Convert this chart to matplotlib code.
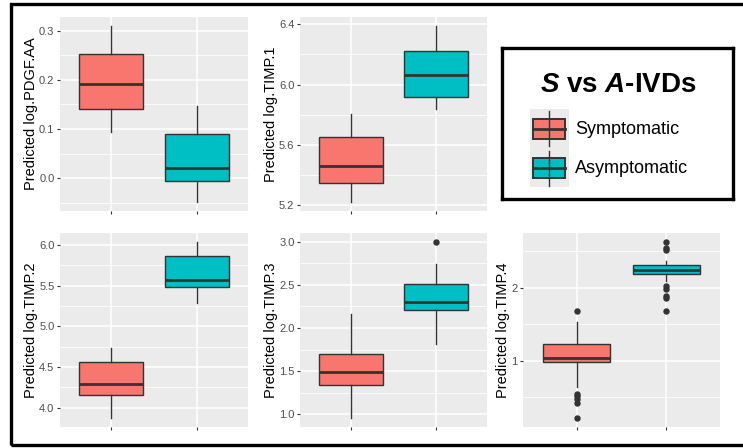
import matplotlib
matplotlib.use("Agg")
import matplotlib.pyplot as plt
from matplotlib.patches import Rectangle
from matplotlib.lines import Line2D
from matplotlib.ticker import MultipleLocator, FormatStrFormatter, AutoMinorLocator

plt.rcParams['font.family'] = ['Liberation Sans', 'DejaVu Sans']
plt.rcParams['mathtext.fontset'] = 'custom'
plt.rcParams['mathtext.rm'] = 'Liberation Sans:bold'
plt.rcParams['mathtext.bf'] = 'Liberation Sans:bold'
plt.rcParams['mathtext.bfit'] = 'Liberation Sans:bold:italic'

# groups and fill colours (ggplot hue defaults)
groups = ["Symptomatic", "Asymptomatic"]
fills = ["#F8766D", "#00BFC4"]

markers = ["PDGF.AA", "TIMP.1", "TIMP.2", "TIMP.3", "TIMP.4"]

# box stats per marker, [symptomatic, asymptomatic]
whislo = [[0.093, -0.049], [5.218, 5.835], [3.870, 5.290], [0.953, 1.817], [0.633, 2.095]]
q1 = [[0.140, -0.006], [5.343, 5.920], [4.150, 5.488], [1.333, 2.204], [0.982, 2.190]]
med = [[0.192, 0.021], [5.461, 6.060], [4.290, 5.570], [1.490, 2.300], [1.037, 2.235]]
q3 = [[0.253, 0.090], [5.650, 6.225], [4.560, 5.868], [1.694, 2.510], [1.229, 2.305]]
whishi = [[0.310, 0.146], [5.804, 6.390], [4.730, 6.040], [2.160, 2.740], [1.528, 2.360]]
fliers = [
    [[], []],
    [[], []],
    [[], []],
    [[], [3.0]],
    [[1.674, 0.54, 0.51, 0.48, 0.413, 0.211],
     [2.628, 2.545, 2.51, 2.018, 1.975, 1.885, 1.86, 1.674]],
]
tick_step = [0.1, 0.4, 0.5, 0.5, 1.0]
tick_fmt = ["%.1f", "%.1f", "%.1f", "%.1f", "%d"]

W, H = 743, 448
fig = plt.figure(figsize=(W / 100, H / 100), dpi=100)
fig.patch.set_facecolor("white")


def px_axes(x0, y0, x1, y1):
    return fig.add_axes([x0 / W, 1 - y1 / H, (x1 - x0) / W, (y1 - y0) / H])


boxes = [(60, 17, 248, 211), (300, 17, 487, 211),
         (60, 233, 248, 427), (300, 233, 487, 427),
         (523, 233, 720, 427)]

dark = "#333333"
for i, m in enumerate(markers):
    ax = px_axes(*boxes[i])
    stats = []
    for g in range(2):
        stats.append(dict(med=med[i][g], q1=q1[i][g], q3=q3[i][g],
                          whislo=whislo[i][g], whishi=whishi[i][g],
                          fliers=fliers[i][g], label=groups[g]))
    bp = ax.bxp(stats, positions=[1, 2], widths=0.75, patch_artist=True,
                showcaps=False,
                boxprops=dict(edgecolor=dark, linewidth=1.0),
                medianprops=dict(color=dark, linewidth=2.0, solid_capstyle="butt"),
                whiskerprops=dict(color=dark, linewidth=1.0),
                flierprops=dict(marker="o", markerfacecolor=dark,
                                markeredgecolor=dark, markersize=3.6))
    for patch, c in zip(bp["boxes"], fills):
        patch.set_facecolor(c)

    # ggplot-style 5% expansion of the data range
    vals = whislo[i] + whishi[i] + fliers[i][0] + fliers[i][1]
    lo, hi = min(vals), max(vals)
    pad = (hi - lo) * 0.05
    ax.set_ylim(lo - pad, hi + pad)
    ax.set_xlim(0.4, 2.6)

    ax.set_facecolor("#EBEBEB")
    ax.yaxis.set_major_locator(MultipleLocator(tick_step[i]))
    ax.yaxis.set_major_formatter(FormatStrFormatter(tick_fmt[i]))
    ax.yaxis.set_minor_locator(AutoMinorLocator(2))
    ax.set_xticks([1, 2])
    ax.set_xticklabels(["", ""])
    ax.grid(which="major", color="white", linewidth=1.1)
    ax.grid(which="minor", axis="y", color="white", linewidth=0.55)
    ax.set_axisbelow(True)
    for s in ax.spines.values():
        s.set_visible(False)
    ax.tick_params(which="major", length=2.5, width=0.8, color=dark,
                   labelsize=8, labelcolor="#4D4D4D", pad=1.5)
    ax.tick_params(which="minor", length=0)
    ax.set_ylabel("Predicted log." + m, fontsize=10.5, labelpad=0.5)

# legend panel
lg = px_axes(502, 48, 733, 199)
lg.set_xlim(0, 231)
lg.set_ylim(151, 0)
lg.set_xticks([])
lg.set_yticks([])
for s in lg.spines.values():
    s.set_linewidth(2.4)
    s.set_color("black")
lg.text(116, 37, r"$\mathbfit{S}$ vs $\mathbfit{A}$-IVDs", fontsize=20,
        fontweight="bold", ha="center", va="center")
lg.add_patch(Rectangle((28, 61), 39, 78, facecolor="#EBEBEB", edgecolor="none"))
key_y = [81, 120.3]
for g in range(2):
    y = key_y[g]
    lg.add_line(Line2D([47, 47], [y - 17.5, y + 17.5], color=dark, lw=1.0))
    lg.add_patch(Rectangle((31, y - 10), 32, 20, facecolor=fills[g],
                           edgecolor=dark, linewidth=1.4))
    lg.add_line(Line2D([31, 63], [y, y], color=dark, lw=2.0))
    lg.text(73, y, groups[g], fontsize=13, ha="left", va="center")

# outer frame
fig.patches.append(Rectangle((11 / W, 3 / H), 740 / W, 441 / H,
                             transform=fig.transFigure, fill=False,
                             edgecolor="black", linewidth=2.4))

fig.savefig("out.png", dpi=100)
